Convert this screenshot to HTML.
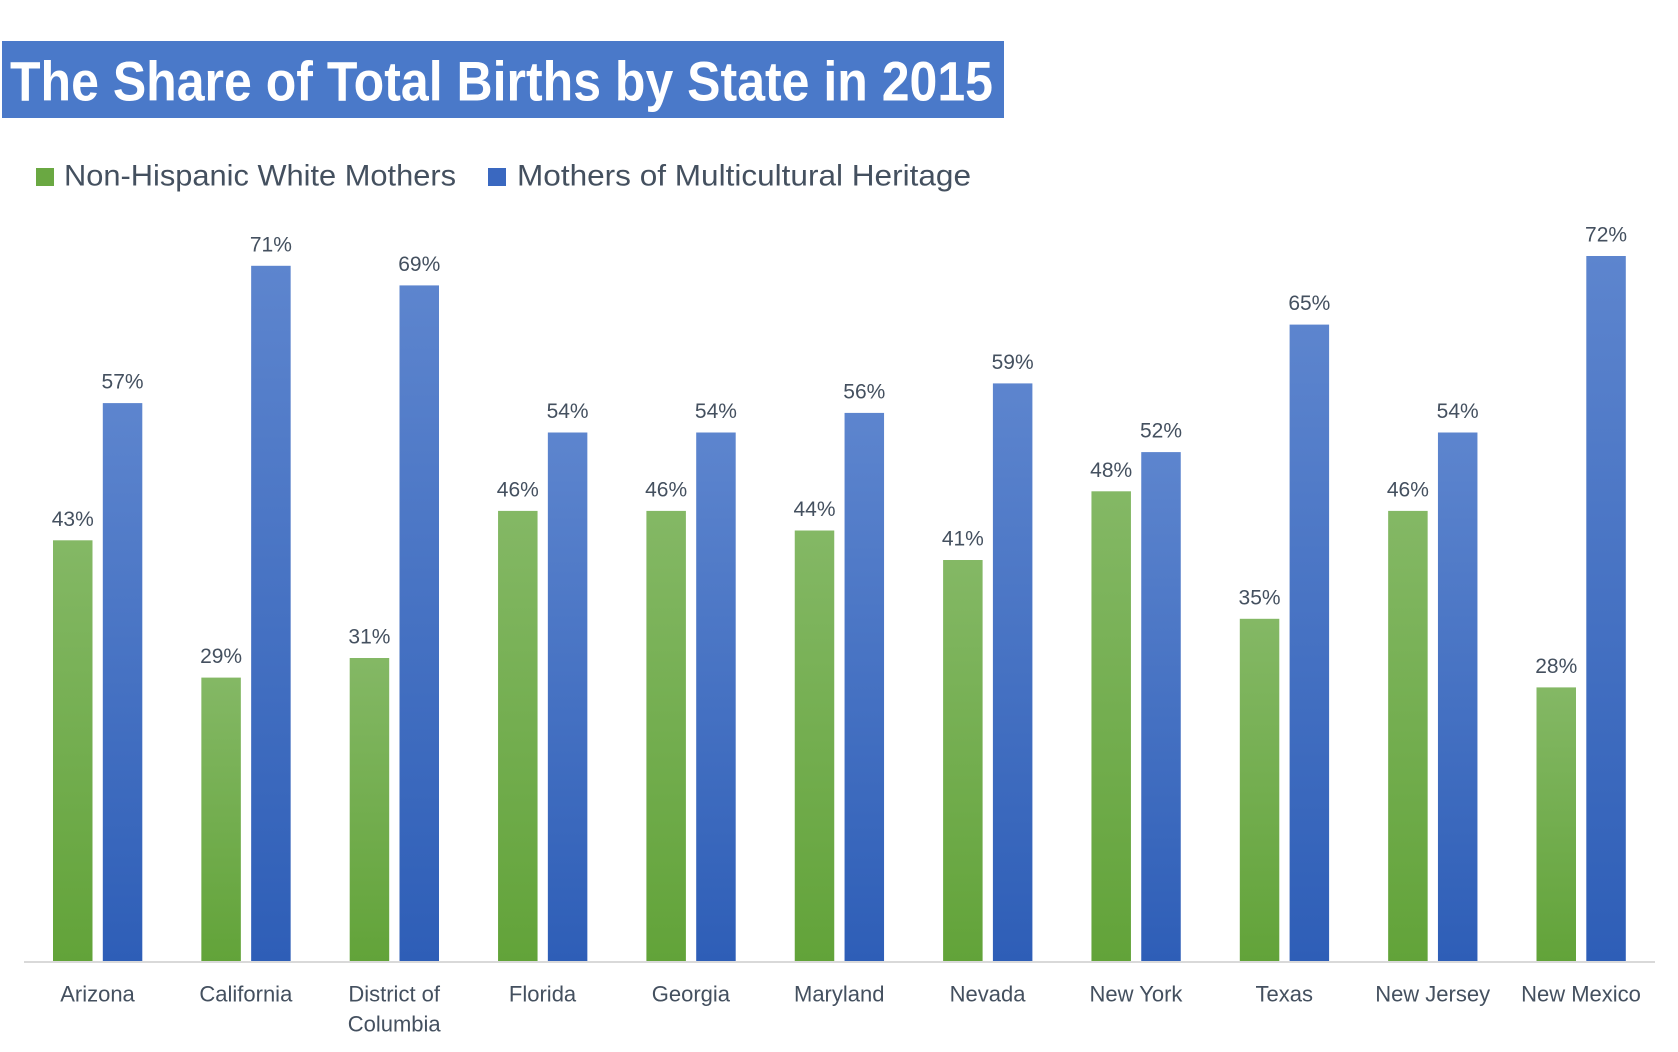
<!DOCTYPE html>
<html>
<head>
<meta charset="utf-8">
<style>
html,body{margin:0;padding:0;background:#fff;}
svg{display:block;}
text{font-family:"Liberation Sans",Arial,sans-serif;}
</style>
</head>
<body>
<svg width="1678" height="1052" viewBox="0 0 1678 1052" xmlns="http://www.w3.org/2000/svg">
<defs>
<linearGradient id="gg" x1="0" y1="0" x2="0" y2="1">
<stop offset="0" stop-color="#84b865"/>
<stop offset="1" stop-color="#62a339"/>
</linearGradient>
<linearGradient id="bg" x1="0" y1="0" x2="0" y2="1">
<stop offset="0" stop-color="#5d85ce"/>
<stop offset="1" stop-color="#2e5eb7"/>
</linearGradient>
</defs>
<rect x="0" y="0" width="1678" height="1052" fill="#fff"/>
<!-- Title -->
<rect x="2" y="41" width="1002" height="77" fill="#4a79c9"/>
<text x="10" y="100.5" font-size="56" font-weight="bold" fill="#ffffff" textLength="983" lengthAdjust="spacingAndGlyphs">The Share of Total Births by State in 2015</text>
<!-- Legend -->
<rect x="36" y="168" width="18" height="18" fill="#6aa842"/>
<text x="64" y="185.5" font-size="30" fill="#44505f" textLength="392" lengthAdjust="spacingAndGlyphs">Non-Hispanic White Mothers</text>
<rect x="488" y="168" width="18" height="18" fill="#3a68c0"/>
<text x="517" y="185.5" font-size="30" fill="#44505f" textLength="454" lengthAdjust="spacingAndGlyphs">Mothers of Multicultural Heritage</text>

<!-- Green bars -->
<g fill="url(#gg)">
<rect x="53" y="540.3" width="39.5" height="421.7"/>
<rect x="201.35" y="677.6" width="39.5" height="284.4"/>
<rect x="349.7" y="658.0" width="39.5" height="304.0"/>
<rect x="498.05" y="510.9" width="39.5" height="451.1"/>
<rect x="646.4" y="510.9" width="39.5" height="451.1"/>
<rect x="794.75" y="530.5" width="39.5" height="431.5"/>
<rect x="943.1" y="560.0" width="39.5" height="402.0"/>
<rect x="1091.45" y="491.3" width="39.5" height="470.7"/>
<rect x="1239.8" y="618.8" width="39.5" height="343.2"/>
<rect x="1388.15" y="510.9" width="39.5" height="451.1"/>
<rect x="1536.5" y="687.4" width="39.5" height="274.6"/>
</g>
<!-- Blue bars -->
<g fill="url(#bg)">
<rect x="102.8" y="403.1" width="39.5" height="558.9"/>
<rect x="251.15" y="265.8" width="39.5" height="696.2"/>
<rect x="399.5" y="285.4" width="39.5" height="676.6"/>
<rect x="547.85" y="432.5" width="39.5" height="529.5"/>
<rect x="696.2" y="432.5" width="39.5" height="529.5"/>
<rect x="844.55" y="412.9" width="39.5" height="549.1"/>
<rect x="992.9" y="383.4" width="39.5" height="578.6"/>
<rect x="1141.25" y="452.1" width="39.5" height="509.9"/>
<rect x="1289.6" y="324.6" width="39.5" height="637.4"/>
<rect x="1437.95" y="432.5" width="39.5" height="529.5"/>
<rect x="1586.3" y="256.0" width="39.5" height="706.0"/>
</g>

<!-- Axis -->
<rect x="24" y="961" width="1631" height="2" fill="#d9d9d9"/>

<!-- Data labels -->
<g font-size="21" fill="#44505f" text-anchor="middle">
<text x="72.75" y="525.8">43%</text>
<text x="221.1" y="663.1">29%</text>
<text x="369.45" y="643.5">31%</text>
<text x="517.8" y="496.4">46%</text>
<text x="666.15" y="496.4">46%</text>
<text x="814.5" y="516.0">44%</text>
<text x="962.85" y="545.5">41%</text>
<text x="1111.2" y="476.8">48%</text>
<text x="1259.55" y="604.3">35%</text>
<text x="1407.9" y="496.4">46%</text>
<text x="1556.25" y="672.9">28%</text>

<text x="122.55" y="388.6">57%</text>
<text x="270.9" y="251.3">71%</text>
<text x="419.25" y="270.9">69%</text>
<text x="567.6" y="418.0">54%</text>
<text x="715.95" y="418.0">54%</text>
<text x="864.3" y="398.4">56%</text>
<text x="1012.65" y="368.9">59%</text>
<text x="1161.0" y="437.6">52%</text>
<text x="1309.35" y="310.1">65%</text>
<text x="1457.7" y="418.0">54%</text>
<text x="1606.05" y="241.5">72%</text>
</g>

<!-- Category labels -->
<g font-size="22" fill="#44505f" text-anchor="middle">
<text x="97.5" y="1001.7">Arizona</text>
<text x="245.85" y="1001.7">California</text>
<text x="394.2" y="1001.7">District of</text>
<text x="394.2" y="1031.7">Columbia</text>
<text x="542.55" y="1001.7">Florida</text>
<text x="690.9" y="1001.7">Georgia</text>
<text x="839.25" y="1001.7">Maryland</text>
<text x="987.6" y="1001.7">Nevada</text>
<text x="1135.95" y="1001.7">New York</text>
<text x="1284.3" y="1001.7">Texas</text>
<text x="1432.65" y="1001.7">New Jersey</text>
<text x="1581" y="1001.7">New Mexico</text>
</g>
</svg>
</body>
</html>
